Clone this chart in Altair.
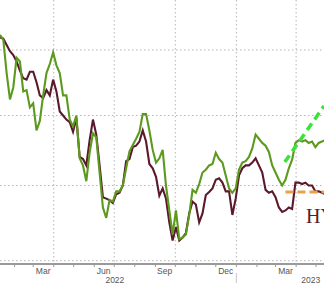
import altair as alt
import pandas as pd

# ---------------- data ----------------
dates = pd.date_range("2022-01-10", periods=99, freq="5D")

green_vals = [81.2, 80.8, 78.2, 76.2, 77.1, 79.4, 79.1, 76.8, 76.9, 75.6,
              75.9, 73.9, 74.6, 76.5, 78.2, 78.9, 79.8, 78.8, 78.2, 76.5,
              76.5, 74.7, 74.2, 75.0, 71.9, 71.4, 70.3, 72.3, 73.7, 73.4,
              70.9, 68.5, 67.8, 69.0, 68.9, 69.6, 69.6, 70.0, 71.2, 72.4,
              72.85, 73.3, 73.8, 75.1, 75.1, 73.9, 72.5, 71.6, 71.9, 72.5,
              70.0, 68.3, 66.7, 68.3, 66.4, 66.5, 66.7, 68.0, 69.7, 69.5,
              70.1, 70.9, 71.1, 71.4, 71.5, 72.3, 71.85, 71.6, 70.7, 69.8,
              69.5, 69.8, 71.1, 71.6, 71.7, 72.0, 72.6, 73.6, 73.3, 73.0,
              72.8, 72.35, 71.4, 70.9, 70.4, 70.0, 70.4, 71.2, 71.8, 73.0,
              73.2, 73.1, 73.2, 73.0, 73.1, 72.7, 73.0, 73.1, 73.2]

maroon_vals = [81.0, 80.9, 80.4, 79.9, 79.6, 79.1, 78.4, 77.8, 77.7, 78.3,
               78.3, 77.5, 76.5, 76.3, 76.9, 76.5, 77.7, 76.8, 75.3, 75.0,
               74.7, 74.5, 73.8, 74.8, 72.0, 71.85, 71.4, 73.2, 74.7, 73.6,
               71.4, 69.2, 69.1, 69.0, 68.8, 69.4, 69.5, 70.0, 71.7, 71.85,
               72.7, 72.8, 73.1, 73.9, 73.1, 71.5, 71.2, 70.6, 69.3, 69.8,
               69.1, 67.5, 66.3, 67.2, 66.3, 66.5, 66.8, 68.1, 68.9, 68.7,
               67.5, 68.1, 69.35, 69.55, 69.8, 70.4, 70.5, 70.2, 69.6, 69.6,
               68.0, 69.1, 70.7, 71.2, 71.4, 71.4, 71.6, 71.9, 71.4, 70.9,
               69.7, 69.5, 69.6, 69.2, 68.5, 68.2, 68.3, 68.5, 68.4, 70.2,
               70.2, 70.1, 70.2, 70.0, 70.0, 69.6, 69.6, 69.5, 69.4]

y_grid = [65, 70, 75, 80]
grid_dates = ["2022-04-01", "2022-07-01", "2022-10-01", "2023-01-01", "2023-04-01"]
month_tick_dates = [d.strftime("%Y-%m-%d") for d in pd.date_range("2022-02-01", "2023-05-01", freq="MS")]
month_labels = ["Mar", "Jun", "Sep", "Dec", "Mar"]
month_label_dates = ["2022-03-16", "2022-06-15", "2022-09-15", "2022-12-16", "2023-03-16"]
year_labels = ["2022", "2023"]
year_label_dates = ["2022-07-02", "2023-04-23"]
year_sep_dates = ["2023-01-01"]

flat_dates = ["2023-03-16", "2023-05-20"]
flat_vals = [69.55, 69.55]
trend_dates = ["2023-03-15", "2023-05-13"]
trend_vals = [71.64, 75.7]

hy_text = ["HY"]
hy_dates = ["2023-04-16"]
hy_vals = [67.45]

# ---------------- tables ----------------
series_df = pd.DataFrame({"date": dates, "green": green_vals, "maroon": maroon_vals})
grid_df = pd.DataFrame({"date": pd.to_datetime(grid_dates)})
hgrid_df = pd.DataFrame({"v": y_grid})
tick_df = pd.DataFrame({"date": pd.to_datetime(month_tick_dates)})
mlab_df = pd.DataFrame({"date": pd.to_datetime(month_label_dates), "label": month_labels})
ylab_df = pd.DataFrame({"date": pd.to_datetime(year_label_dates), "label": year_labels})
ysep_df = pd.DataFrame({"date": pd.to_datetime(year_sep_dates)})
flat_df = pd.DataFrame({"date": pd.to_datetime(flat_dates), "v": flat_vals})
trend_df = pd.DataFrame({"date": pd.to_datetime(trend_dates), "v": trend_vals})
hy_df = pd.DataFrame({"date": pd.to_datetime(hy_dates), "v": hy_vals, "t": hy_text})

xscale = alt.Scale(domain=[alt.DateTime(year=2022, month=1, date=10),
                           alt.DateTime(year=2023, month=5, date=13)])
yscale = alt.Scale(type="log", domain=[64.79, 84.04], nice=False)

W, H = 324, 264
GRID = "#b4b4b4"


def X(field="date:T"):
    return alt.X(field, scale=xscale, axis=None)


def Y(field):
    return alt.Y(field, scale=yscale, axis=None)


vgrid = alt.Chart(grid_df).mark_rule(color=GRID, strokeDash=[1.5, 2.5], strokeWidth=1).encode(
    x=X(), y=alt.value(0), y2=alt.value(H)
)
hgrid = alt.Chart(hgrid_df).mark_rule(color=GRID, strokeDash=[1.5, 2.5], strokeWidth=1).encode(
    y=Y("v:Q"), x=alt.value(0), x2=alt.value(W)
)

axis_line = alt.Chart(hgrid_df).mark_rule(color="#9a9a9a", strokeWidth=1.3).encode(
    x=alt.value(0), x2=alt.value(W), y=alt.value(H)
)
ticks = alt.Chart(tick_df).mark_rule(color="#9a9a9a", strokeWidth=1).encode(
    x=X(), y=alt.value(H), y2=alt.value(H + 3)
)

maroon_line = alt.Chart(series_df).mark_line(color="#5a1a2b", strokeWidth=2.1, clip=True).encode(
    x=X(), y=Y("maroon:Q")
)
green_line = alt.Chart(series_df).mark_line(color="#5c9a1e", strokeWidth=2.1, clip=True).encode(
    x=X(), y=Y("green:Q")
)

flat = alt.Chart(flat_df).mark_line(color="#e8a24a", strokeWidth=3, strokeDash=[8, 4], clip=True).encode(
    x=X(), y=Y("v:Q")
)
trend = alt.Chart(trend_df).mark_line(color="#3ee03a", strokeWidth=3.5, strokeDash=[8, 5], clip=True).encode(
    x=X(), y=Y("v:Q")
)

hy = alt.Chart(hy_df).mark_text(font="Liberation Serif", fontSize=20, color="#5a1a2b",
                                align="left", baseline="alphabetic").encode(
    x=X(), y=Y("v:Q"), text="t:N"
)

mlab = alt.Chart(mlab_df).mark_text(font="Liberation Sans", fontSize=8.5, color="#555555",
                                    align="center", baseline="alphabetic").encode(
    x=X(), y=alt.value(H + 10), text="label:N"
)
ylab = alt.Chart(ylab_df).mark_text(font="Liberation Sans", fontSize=8.5, color="#555555",
                                    align="center", baseline="alphabetic").encode(
    x=X(), y=alt.value(H + 18.5), text="label:N"
)
ysep = alt.Chart(ysep_df).mark_rule(color="#c4c4c4", strokeWidth=1).encode(
    x=X(), y=alt.value(H + 9), y2=alt.value(H + 19)
)

chart = alt.layer(vgrid, hgrid, axis_line, ticks, maroon_line, green_line, flat, trend,
                  hy, mlab, ylab, ysep).properties(
    width=W, height=H,
    padding={"left": 0, "top": 0, "right": 0, "bottom": 19},
    autosize=alt.AutoSizeParams(type="none"),
    background="white",
).configure_view(stroke=None)

chart.save("out.html", embed_options={"renderer": "svg", "actions": False})
